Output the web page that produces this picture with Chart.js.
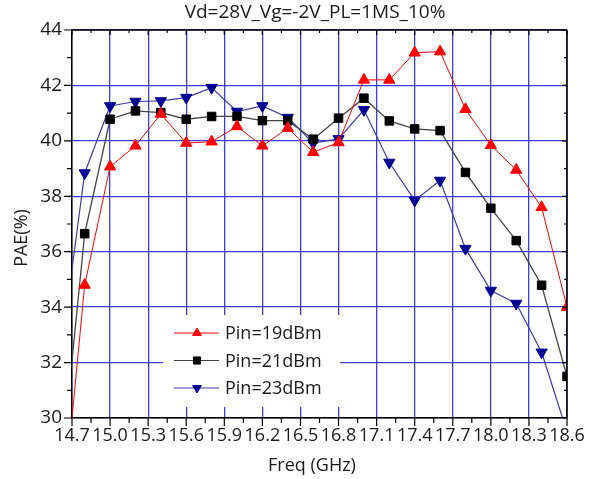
<!DOCTYPE html>
<html>
<head>
<meta charset="utf-8">
<script src="https://cdn.jsdelivr.net/npm/chart.js@4/dist/chart.umd.min.js"></script>
<style>
  html, body { margin: 0; padding: 0; background: #fff; }
  #wrap { width: 595px; height: 479px; }
</style>
</head>
<body>
<div id="wrap"><canvas id="myChart"></canvas></div>
<script>
// frequency points (GHz), first one sits left of the axis and gets clipped
var freq = [14.6, 14.8, 15.0, 15.2, 15.4, 15.6, 15.8, 16.0, 16.2, 16.4, 16.6, 16.8, 17.0, 17.2, 17.4, 17.6, 17.8, 18.0, 18.2, 18.4, 18.6];
var pae19 = [25.2, 34.8, 39.07, 39.82, 40.97, 39.92, 39.97, 40.52, 39.82, 40.46, 39.59, 39.94, 42.2, 42.2, 43.18, 43.22, 41.14, 39.84, 38.95, 37.6, 34.0];
var pae21 = [27.5, 36.65, 40.78, 41.08, 41.02, 40.78, 40.88, 40.88, 40.73, 40.73, 40.06, 40.82, 41.54, 40.72, 40.43, 40.37, 38.86, 37.57, 36.4, 34.79, 31.5];
var pae23 = [31.9, 38.84, 41.26, 41.42, 41.44, 41.56, 41.92, 41.06, 41.26, 40.84, 39.92, 40.07, 41.12, 39.22, 37.85, 38.57, 36.11, 34.6, 34.13, 32.37, 29.5];
var seriesNames = ["Pin=19dBm", "Pin=21dBm", "Pin=23dBm"];
var xTicks = [14.7, 15.0, 15.3, 15.6, 15.9, 16.2, 16.5, 16.8, 17.1, 17.4, 17.7, 18.0, 18.3, 18.6];
var yTicks = [30, 32, 34, 36, 38, 40, 42, 44];
var chartTitle = "Vd=28V_Vg=-2V_PL=1MS_10%";
var xTitle = "Freq (GHz)";
var yTitle = "PAE(%)";

var FONT = "'Open Sans', 'Noto Sans', sans-serif";

function pts(ys) {
    var out = [];
    for (var i = 0; i < freq.length; i++) {
        out.push({x: freq[i], y: ys[i]});
    }
    return out;
}

// frame, ticks, titles
var decorPlugin = {
    id: 'decor',
    afterDraw: function(chart) {
        var ctx = chart.ctx;
        var a = chart.chartArea;
        var xs = chart.scales.x, ys = chart.scales.y;
        ctx.save();
        ctx.strokeStyle = '#000';
        ctx.lineWidth = 1.5;
        ctx.beginPath();
        ctx.moveTo(a.left, a.top); ctx.lineTo(a.right, a.top);
        ctx.moveTo(a.right, a.top); ctx.lineTo(a.right, a.bottom);
        ctx.stroke();

        ctx.lineWidth = 1.2;
        ctx.beginPath();
        // x ticks, major outside at bottom, inside at top
        for (var i = 0; i < xTicks.length; i++) {
            var px = xs.getPixelForValue(xTicks[i]);
            ctx.moveTo(px, a.bottom); ctx.lineTo(px, a.bottom + 8);
            ctx.moveTo(px, a.top); ctx.lineTo(px, a.top + 5);
            if (i < xTicks.length - 1) {
                var mx = xs.getPixelForValue(xTicks[i] + 0.15);
                ctx.moveTo(mx, a.bottom); ctx.lineTo(mx, a.bottom + 5);
                ctx.moveTo(mx, a.top); ctx.lineTo(mx, a.top + 3);
            }
        }
        for (var j = 0; j < yTicks.length; j++) {
            var py = ys.getPixelForValue(yTicks[j]);
            ctx.moveTo(a.left, py); ctx.lineTo(a.left - 8, py);
            ctx.moveTo(a.right, py); ctx.lineTo(a.right - 5, py);
            if (j < yTicks.length - 1) {
                var my = ys.getPixelForValue(yTicks[j] + 1);
                ctx.moveTo(a.left, my); ctx.lineTo(a.left - 5, my);
                ctx.moveTo(a.right, my); ctx.lineTo(a.right - 3, my);
            }
        }
        ctx.stroke();

        ctx.fillStyle = '#1a1a1a';
        ctx.textAlign = 'center';
        ctx.textBaseline = 'middle';
        ctx.font = "19px " + FONT;
        ctx.fillText(chartTitle, 315, 13);
        ctx.font = "18px " + FONT;
        ctx.fillText(xTitle, 312, 466);
        ctx.translate(22, 238);
        ctx.rotate(-Math.PI / 2);
        ctx.fillText(yTitle, 0, 0);
        ctx.restore();
    }
};

// legend box inside the plot, white background hides the grid
var legendBox = {left: 163, top: 315, right: 340, bottom: 407};
var legendPlugin = {
    id: 'boxLegend',
    beforeDatasetsDraw: function(chart) {
        var ctx = chart.ctx;
        ctx.save();
        ctx.fillStyle = '#fff';
        ctx.fillRect(legendBox.left, legendBox.top, legendBox.right - legendBox.left, legendBox.bottom - legendBox.top);
        ctx.restore();
    },
    afterDatasetsDraw: function(chart) {
        var ctx = chart.ctx;
        ctx.save();
        for (var i = 0; i < chart.data.datasets.length; i++) {
            var ds = chart.data.datasets[i];
            var y = 333 + i * 27.5;
            ctx.strokeStyle = ds.borderColor;
            ctx.lineWidth = 1;
            ctx.beginPath();
            ctx.moveTo(174, y); ctx.lineTo(219, y);
            ctx.stroke();
            ctx.fillStyle = ds.pointBackgroundColor;
            ctx.strokeStyle = ds.pointBorderColor;
            Chart.helpers.drawPoint(ctx, {
                pointStyle: ds.pointStyle,
                rotation: ds.pointRotation || 0,
                radius: 5,
                borderWidth: 1
            }, 197, y);
            ctx.fillStyle = '#1a1a1a';
            ctx.font = "18px " + FONT;
            ctx.textAlign = 'left';
            ctx.textBaseline = 'middle';
            ctx.fillText(ds.label, 225, y + 1);
        }
        ctx.restore();
    }
};

var ctx = document.getElementById('myChart').getContext('2d');
var myChart = new Chart(ctx, {
    type: 'line',
    data: {
        datasets: [{
            label: seriesNames[0],
            data: pts(pae19),
            borderColor: 'rgb(255,0,0)',
            borderWidth: 1,
            pointStyle: 'triangle',
            pointRadius: 6.5,
            pointBackgroundColor: 'rgb(255,0,0)',
            pointBorderColor: 'rgb(255,0,0)',
            pointBorderWidth: 1
        }, {
            label: seriesNames[1],
            data: pts(pae21),
            borderColor: '#444',
            borderWidth: 1.3,
            pointStyle: 'rect',
            pointRadius: 6,
            pointBackgroundColor: '#000',
            pointBorderColor: '#000',
            pointBorderWidth: 1
        }, {
            label: seriesNames[2],
            data: pts(pae23),
            borderColor: 'rgb(60,60,170)',
            borderWidth: 1.2,
            pointStyle: 'triangle',
            pointRotation: 180,
            pointRadius: 6.5,
            pointBackgroundColor: 'rgb(0,0,150)',
            pointBorderColor: 'rgb(0,0,150)',
            pointBorderWidth: 1
        }]
    },
    options: {
        responsive: true,
        maintainAspectRatio: false,
        animation: false,
        layout: { padding: { top: 30, right: 28, left: 0, bottom: 0 } },
        plugins: {
            legend: { display: false },
            title: { display: false },
            tooltip: { enabled: false }
        },
        scales: {
            x: {
                type: 'linear',
                min: 14.7,
                max: 18.6,
                afterBuildTicks: function(scale) {
                    scale.ticks = xTicks.map(function(v){ return {value: v}; });
                },
                afterFit: function(scale) { scale.height = 61; },
                ticks: {
                    autoSkip: false,
                    maxRotation: 0,
                    padding: 7,
                    color: '#1a1a1a',
                    font: { family: FONT, size: 18 },
                    callback: function(v) { return Number(v).toFixed(1); }
                },
                grid: { color: 'rgb(60,60,225)', lineWidth: 1.3, drawTicks: false },
                border: { color: '#000', width: 1.5 }
            },
            y: {
                min: 30,
                max: 44,
                afterBuildTicks: function(scale) {
                    scale.ticks = yTicks.map(function(v){ return {value: v}; });
                },
                afterFit: function(scale) { scale.width = 72; },
                ticks: {
                    padding: 10,
                    color: '#1a1a1a',
                    font: { family: FONT, size: 19 }
                },
                grid: { color: 'rgb(60,60,225)', lineWidth: 1.3, drawTicks: false },
                border: { color: '#000', width: 1.5 }
            }
        }
    },
    plugins: [legendPlugin, decorPlugin]
});
</script>
</body>
</html>
